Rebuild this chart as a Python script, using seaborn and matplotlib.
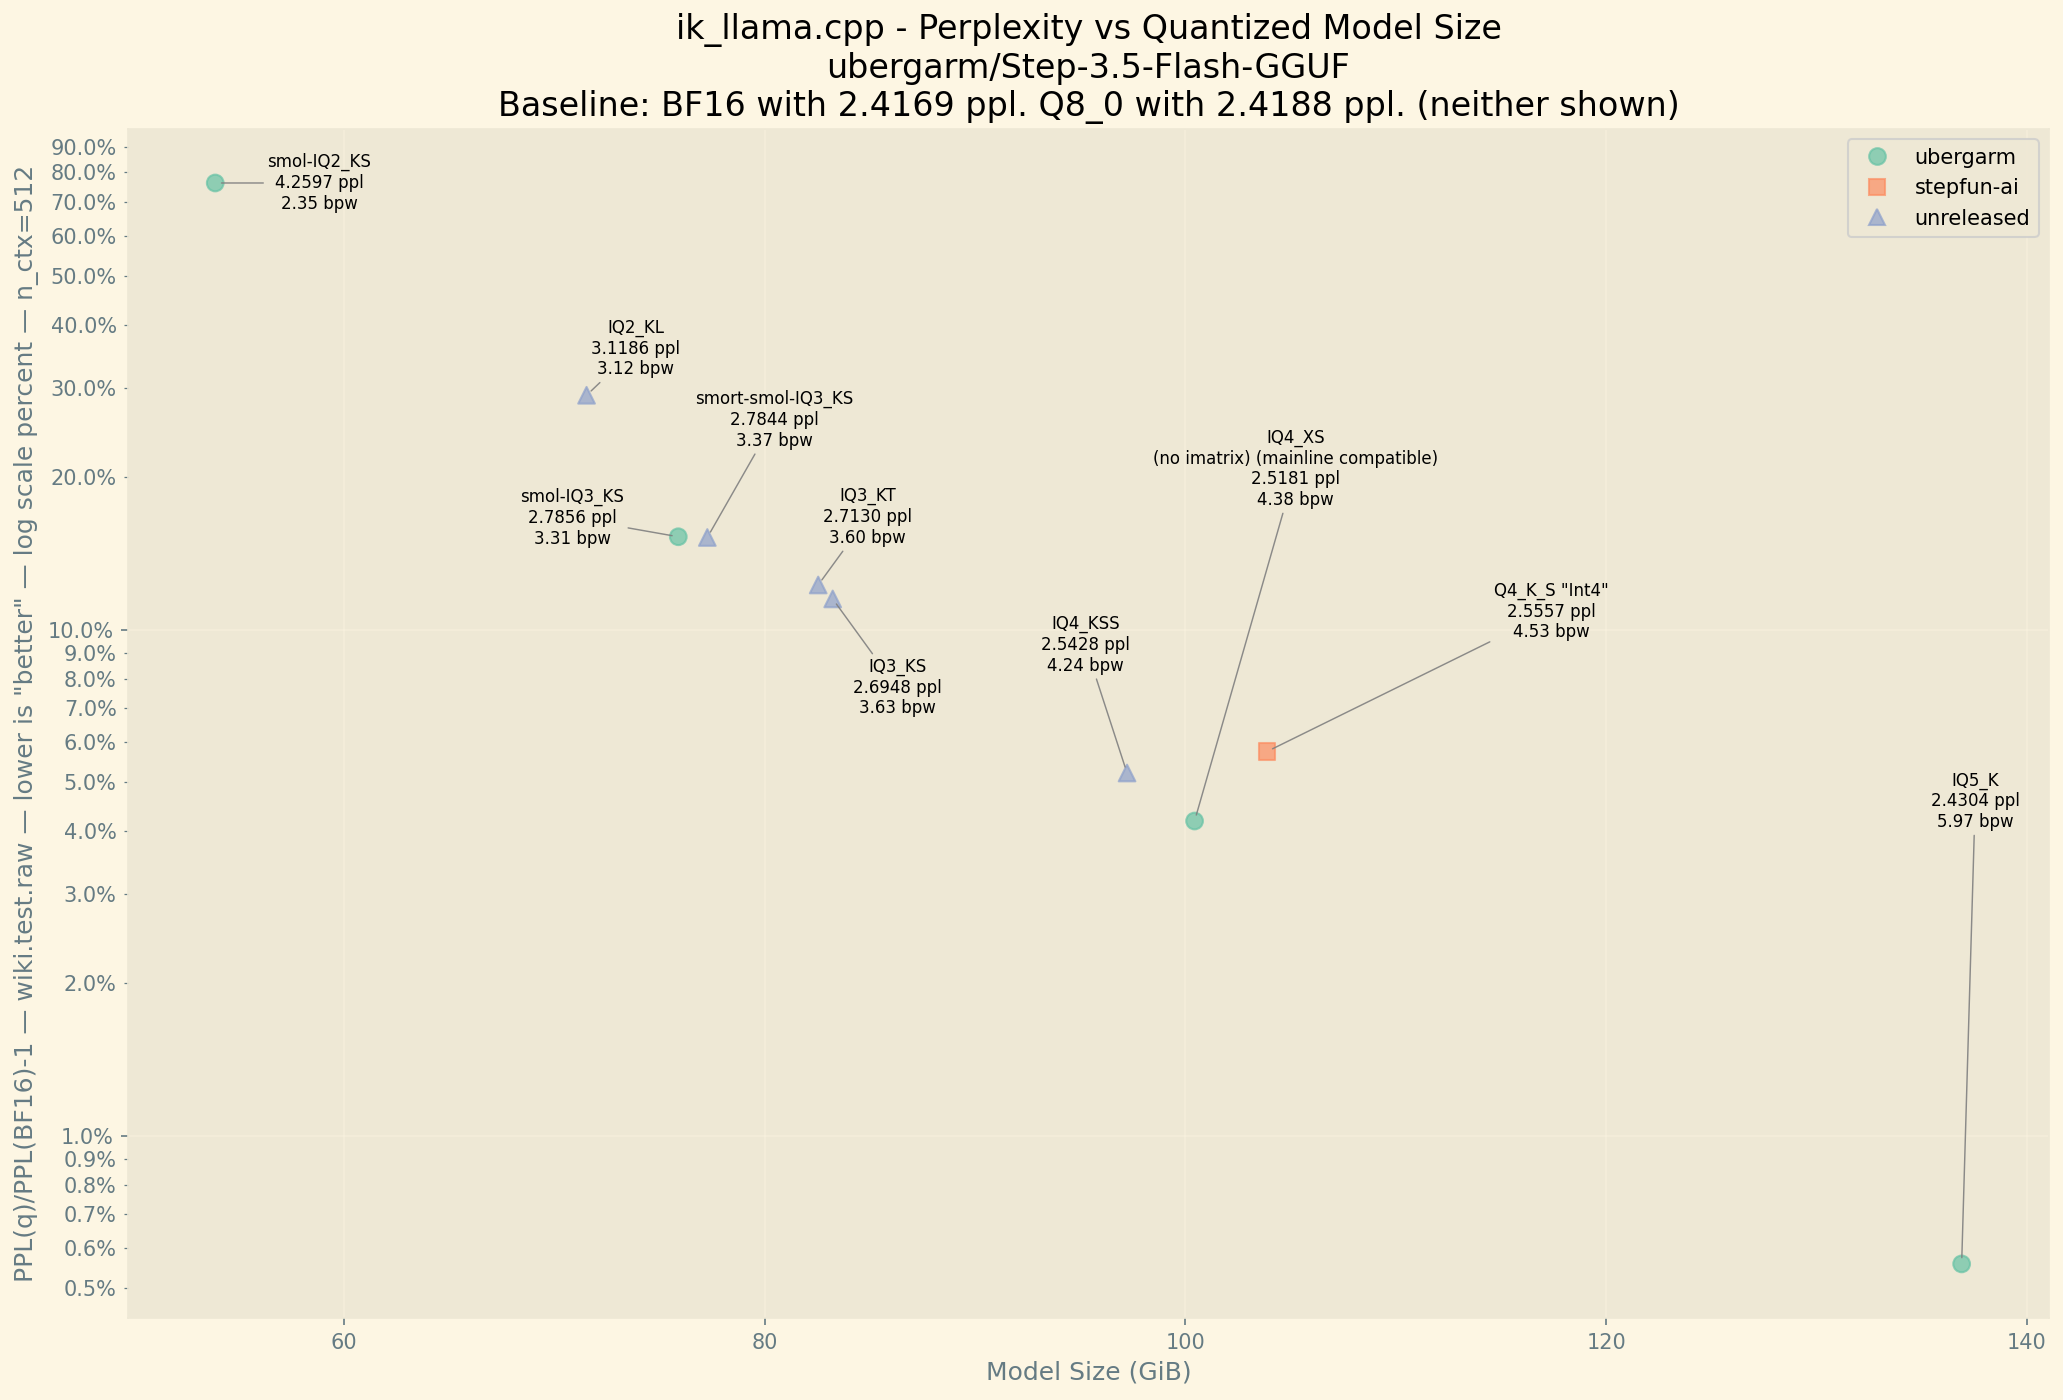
import matplotlib
matplotlib.use("Agg")
import matplotlib.pyplot as plt
import matplotlib.ticker as mticker
import seaborn as sns
import pandas as pd
import numpy as np

# ---- data ----
baseline_bf16 = 2.4169
baseline_q8 = 2.4188

names = ["smol-IQ2_KS", "IQ2_KL", "smol-IQ3_KS", "smort-smol-IQ3_KS", "IQ3_KT",
         "IQ3_KS", "IQ4_KSS", "IQ4_XS", "Q4_K_S \"Int4\"", "IQ5_K"]
notes = ["", "", "", "", "", "", "", "(no imatrix) (mainline compatible)", "", ""]
sizes_gib = [53.89, 71.54, 75.90, 77.28, 82.55, 83.24, 97.23, 100.44, 103.88, 136.90]
ppl = [4.2597, 3.1186, 2.7856, 2.7844, 2.7130, 2.6948, 2.5428, 2.5181, 2.5557, 2.4304]
bpw = [2.35, 3.12, 3.31, 3.37, 3.60, 3.63, 4.24, 4.38, 4.53, 5.97]
groups = ["ubergarm", "unreleased", "ubergarm", "unreleased", "unreleased",
          "unreleased", "unreleased", "ubergarm", "stepfun-ai", "ubergarm"]
group_order = ["ubergarm", "stepfun-ai", "unreleased"]
# label offsets in points (text centre relative to point)
label_dx = [50, 23.5, -51, 32.2, 23.7, 30.9, -20, 48.5, 136.5, 6.5]
label_dy = [0, 22.4, 9, 56.4, 32.5, -42.6, 61.4, 169, 67.2, 222]

df = pd.DataFrame({"name": names, "size": sizes_gib, "ppl": ppl, "bpw": bpw,
                   "group": groups, "note": notes})
df["delta"] = df["ppl"] / baseline_bf16 - 1

plt.style.use("Solarize_Light2")
plt.rcParams["font.family"] = ["DejaVu Sans"]

DPI = 150
fig = plt.figure(figsize=(2063 / DPI, 1400 / DPI), dpi=DPI)
ax = fig.add_axes([0.062, 0.0586, 0.9932 - 0.062, 0.9079 - 0.0586])

palette = dict(zip(group_order, sns.color_palette("Set2", 3)))
markers = {"ubergarm": "o", "stepfun-ai": "s", "unreleased": "^"}

sns.scatterplot(data=df, x="size", y="delta", hue="group", style="group",
                hue_order=group_order, style_order=group_order,
                palette=palette, markers=markers, s=64, alpha=0.7,
                edgecolor="face", linewidth=1, ax=ax, zorder=3)

ax.set_yscale("log")
ax.margins(x=0.05, y=0.05)

fmt = mticker.FuncFormatter(lambda v, _: f"{v * 100:.1f}%")
ax.yaxis.set_major_locator(mticker.LogLocator(base=10))
ax.yaxis.set_minor_locator(mticker.LogLocator(base=10, subs=np.arange(2, 10)))
ax.yaxis.set_major_formatter(fmt)
ax.yaxis.set_minor_formatter(fmt)
ax.tick_params(axis="y", which="minor", labelsize=10)
ax.tick_params(axis="both", which="major", labelsize=10)
ax.grid(True, which="major", alpha=0.35)

for i in range(len(names)):
    lines = [names[i]]
    if notes[i]:
        lines.append(notes[i])
    lines.append(f"{ppl[i]:.4f} ppl")
    lines.append(f"{bpw[i]:.2f} bpw")
    ax.annotate("\n".join(lines), xy=(sizes_gib[i], df["delta"][i]),
                xytext=(label_dx[i], label_dy[i]), textcoords="offset points",
                ha="center", va="center", fontsize=8, color="black",
                arrowprops=dict(arrowstyle="-", color="gray", lw=0.7, alpha=0.9,
                                shrinkA=0, shrinkB=3),
                zorder=4)

ax.set_xlabel("Model Size (GiB)")
ax.set_ylabel('PPL(q)/PPL(BF16)-1 — wiki.test.raw — lower is "better" — log scale percent — n_ctx=512')
ax.set_title("ik_llama.cpp - Perplexity vs Quantized Model Size\n"
             "ubergarm/Step-3.5-Flash-GGUF\n"
             f"Baseline: BF16 with {baseline_bf16:.4f} ppl. Q8_0 with {baseline_q8:.4f} ppl. (neither shown)",
             fontsize=16)

h, l = ax.get_legend_handles_labels()
ax.legend(h, l, loc="upper right", fontsize=10)

fig.savefig("out.png", dpi=DPI)
